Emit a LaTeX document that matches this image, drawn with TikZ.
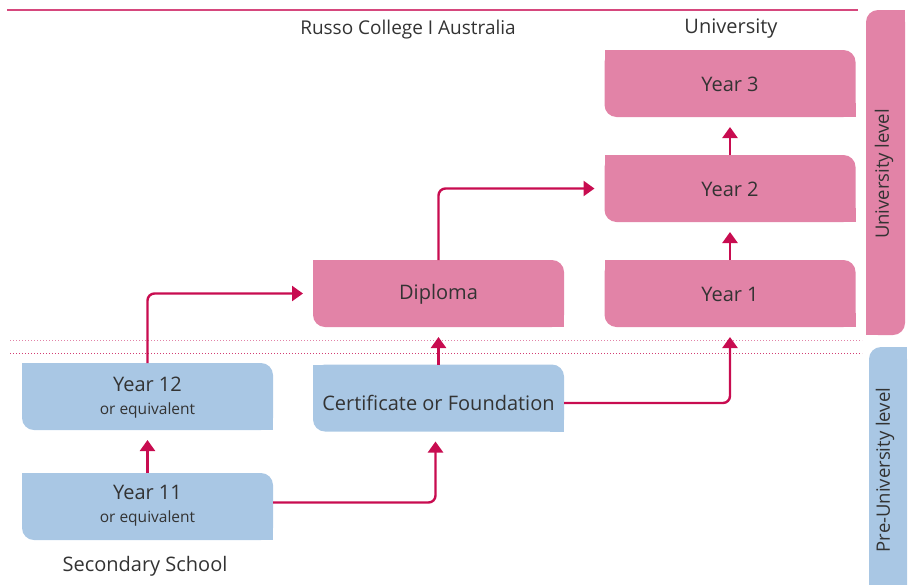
\documentclass[tikz,border=0pt]{standalone}
\usepackage{fontspec}
\setmainfont{Open Sans}
\usetikzlibrary{arrows.meta}
\definecolor{pinkc}{RGB}{226,131,167}
\definecolor{bluec}{RGB}{169,199,228}
\definecolor{arrc}{RGB}{200,12,80}
\definecolor{linec}{RGB}{214,72,125}
\definecolor{txt}{RGB}{51,51,51}
\newcommand{\bigf}{\fontsize{20}{22}\selectfont}
\newcommand{\smallf}{\fontsize{15.5}{17}\selectfont}
\tikzset{
  box/.style={minimum width=251pt, minimum height=67pt, inner sep=0pt, outer sep=0pt,
    rounded corners=12pt},
  pbox/.style={box, fill=pinkc},
  bbox/.style={box, fill=bluec},
  boxtext/.style={text=txt, inner sep=0pt, font=\bigf, align=center},
  arr/.style={draw=arrc, line width=2.4pt, rounded corners=7pt,
    -{Triangle[length=11pt,width=15pt]}, shorten >=10pt},
  lbl/.style={text=txt, inner sep=0pt}
}
\newcommand{\sqcorners}[2]{%
  \fill[#2] (#1.north west) rectangle ++(14,14);
  \fill[#2] (#1.south east) rectangle ++(-14,-14);}
\begin{document}
\begin{tikzpicture}[x=1pt,y=-1pt]
\useasboundingbox (0,0) rectangle (909,584);
% top rule
\coordinate (tl) at (7,10);
\coordinate (tr) at (858,10);
\draw[linec, line width=1.6pt] (tl) -- (tr);
\node[lbl, font=\fontsize{19}{21}\selectfont] (rc) at (408,30) {Russo College I Australia};
\node[lbl, font=\fontsize{20}{22}\selectfont] (uni) at (731,29) {University};
% dotted separators
\coordinate (d1l) at (10,340); \coordinate (d1r) at (862,340);
\coordinate (d2l) at (10,353); \coordinate (d2r) at (862,353);
\draw[pinkc, line width=1pt, dotted] (d1l) -- (d1r);
\draw[arrc!80, line width=1pt, dotted] (d2l) -- (d2r);
% side bars
\node[fill=pinkc, minimum width=39pt, minimum height=325pt, inner sep=0pt, outer sep=0pt, rounded corners=12pt] (ub) at (885.5,172.5) {};
\fill[pinkc] (ub.north east) rectangle ++(-14,14);
\fill[pinkc] (ub.south west) rectangle ++(14,-14);
\node[lbl, rotate=90, font=\fontsize{18.5}{20}\selectfont] (ubt) at (884,174) {University level};
\node[fill=bluec, minimum width=38pt, minimum height=250pt, inner sep=0pt, outer sep=0pt, rounded corners=12pt, anchor=north west] (pb) at (869,347) {};
\fill[bluec] (pb.north east) rectangle ++(-14,14);
\fill[bluec] (pb.south west) rectangle ++(14,-14);
\fill[bluec] (pb.south east) rectangle ++(-14,-14);
\node[lbl, rotate=90, font=\fontsize{18.5}{20}\selectfont] (pbt) at (885,470) {Pre-University level};
% boxes
\node[pbox] (y3) at (730,83.5) {}; \sqcorners{y3}{pinkc}
\node[pbox] (y2) at (730,188.5) {}; \sqcorners{y2}{pinkc}
\node[pbox] (y1) at (730,293.5) {}; \sqcorners{y1}{pinkc}
\node[pbox] (dip) at (438.5,293.5) {}; \sqcorners{dip}{pinkc}
\node[bbox] (cert) at (438.5,398) {}; \sqcorners{cert}{bluec}
\node[bbox] (y12) at (147.5,396.5) {}; \sqcorners{y12}{bluec}
\node[bbox] (y11) at (147.5,506.5) {}; \sqcorners{y11}{bluec}
% texts
\node[boxtext] (t3) at ([yshift=-1pt]y3.center) {Year 3};
\node[boxtext] (t2) at ([yshift=-1pt]y2.center) {Year 2};
\node[boxtext] (t1) at ([yshift=-1pt]y1.center) {Year 1};
\node[boxtext] (td) at ([yshift=-1pt]dip.center) {Diploma};
\node[boxtext] (tc) at ([yshift=-5pt]cert.center) {Certificate or Foundation};
\node[boxtext] (t12) at ([yshift=-1pt]y12.center) {Year 12\\[1pt]{\smallf or equivalent}};
\node[boxtext] (t11) at ([yshift=1pt]y11.center) {Year 11\\[1pt]{\smallf or equivalent}};
\node[lbl, font=\fontsize{20}{22}\selectfont] (ss) at (145,566) {Secondary School};
% arrows
\draw[arr] (y11.north) -- (y12.south);
\draw[arr] (y12.north) |- (dip.west);
\draw[arr] ([yshift=4pt]y11.east) -| ([xshift=-3pt]cert.south);
\draw[arr] (cert.north) -- (dip.south);
\draw[arr] (dip.north) |- (y2.west);
\draw[arr] ([yshift=-5pt]cert.east) -| (y1.south);
\draw[arr] (y1.north) -- (y2.south);
\draw[arr] (y2.north) -- (y3.south);
\end{tikzpicture}
\end{document}
